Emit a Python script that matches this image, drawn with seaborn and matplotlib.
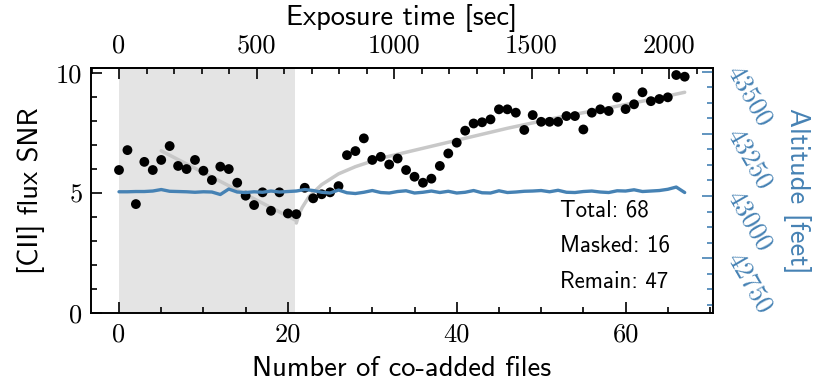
import matplotlib
matplotlib.use('Agg')
import matplotlib.pyplot as plt
from matplotlib.ticker import MultipleLocator, FuncFormatter
from matplotlib.transforms import ScaledTranslation
import pandas as pd
import seaborn as sns

# [CII] flux SNR after co-adding N files
snr = [5.96, 6.79, 4.54, 6.30, 5.96, 6.38, 6.96, 6.13, 6.00, 6.38,
       5.93, 5.54, 6.10, 6.00, 5.43, 4.89, 4.50, 5.03, 4.26, 5.03,
       4.15, 4.12, 5.22, 4.78, 4.95, 5.03, 5.29, 6.58, 6.75, 7.28,
       6.38, 6.51, 6.19, 6.44, 5.96, 5.68, 5.43, 5.60, 6.13, 6.65,
       7.10, 7.60, 7.90, 7.95, 8.07, 8.49, 8.49, 8.35, 7.63, 8.25,
       7.97, 7.97, 7.97, 8.21, 8.21, 7.65, 8.35, 8.49, 8.42, 8.99,
       8.50, 8.70, 9.20, 8.83, 8.92, 8.99, 9.92, 9.85]

# aircraft altitude per file [feet]
altitude = [43017, 43017, 43018, 43018, 43020, 43026, 43019, 43018, 43017, 43015,
            43017, 43016, 43006, 43028, 43016, 43014, 43017, 43015, 43020, 43016,
            43018, 43020, 43026, 43022, 43015, 43012, 43024, 43013, 43010, 43015,
            43022, 43014, 43012, 43018, 43021, 43012, 43015, 43020, 43014, 43019,
            43012, 43015, 43022, 43013, 43012, 43021, 43014, 43016, 43019, 43020,
            43022, 43017, 43023, 43015, 43014, 43018, 43020, 43016, 43014, 43021,
            43020, 43025, 43018, 43020, 43022, 43027, 43036, 43014]

# grey trend lines
trend_masked_x = [5.0, 21.0]
trend_masked_y = [6.76, 3.85]
trend_remain_x = [21.0, 21.3, 21.7, 22.5, 24, 26, 28, 31, 34, 40, 46, 52, 58, 63, 67]
trend_remain_y = [3.75, 4.10, 4.40, 4.85, 5.35, 5.80, 6.10, 6.45, 6.70, 7.20,
                  7.70, 8.15, 8.55, 8.90, 9.20]

mask_end = 20.8
n_total, n_masked, n_remain = 68, 16, 47
sec_per_file = 30.7

df = pd.DataFrame({'files': range(len(snr)), 'snr': snr, 'alt': altitude})

sns.set_style('ticks')
plt.rcParams['font.family'] = ['cmss10', 'DejaVu Sans']
plt.rcParams['axes.unicode_minus'] = False
plt.rcParams['axes.linewidth'] = 1.2
for key in ['text.color', 'axes.labelcolor', 'xtick.color', 'ytick.color', 'axes.edgecolor']:
    plt.rcParams[key] = 'black'

blue = '#4682b4'
tick_font = {'family': 'cmr10', 'size': 19}

fig = plt.figure(figsize=(8.3, 3.82), dpi=100)
ax = fig.add_axes([0.1093, 0.1806, 0.7497, 0.6406])

ax.axvspan(0, mask_end, color='#e4e4e4', lw=0, zorder=0)
sns.lineplot(x=trend_masked_x, y=trend_masked_y, ax=ax, color='#c8c8c8', lw=2.5, zorder=1)
sns.lineplot(x=trend_remain_x, y=trend_remain_y, ax=ax, color='#c8c8c8', lw=2.5,
             zorder=1, sort=False)
sns.scatterplot(data=df, x='files', y='snr', ax=ax, color='black', s=50,
                edgecolor='none', zorder=3)

ax.text(52.2, 4.04, f'Total: {n_total}', fontsize=16.5)
ax.text(52.2, 2.55, f'Masked: {n_masked}', fontsize=16.5)
ax.text(52.2, 1.03, f'Remain: {n_remain}', fontsize=16.5)

ax.set_xlim(-3.35, 70.35)
ax.set_ylim(0, 10.2)
ax.xaxis.set_major_locator(MultipleLocator(20))
ax.xaxis.set_minor_locator(MultipleLocator(5))
ax.yaxis.set_major_locator(MultipleLocator(5))
ax.yaxis.set_minor_locator(MultipleLocator(1))
fmt = FuncFormatter(lambda v, p: f'{v:g}')
ax.xaxis.set_major_formatter(fmt)
ax.yaxis.set_major_formatter(fmt)
ax.tick_params(which='both', direction='in', top=False, right=False, width=1.2)
ax.tick_params(which='major', length=8)
ax.tick_params(which='minor', length=4)
ax.tick_params(axis='x', pad=7)
ax.tick_params(axis='y', pad=6)
for lab in ax.get_xticklabels() + ax.get_yticklabels():
    lab.set_fontproperties(tick_font)
ax.set_xlabel('Number of co-added files', fontsize=20.5, labelpad=7)
ax.set_ylabel('[CII] flux SNR', fontsize=20.5, labelpad=8)

# top axis: exposure time
secax = ax.secondary_xaxis('top', functions=(lambda x: x * sec_per_file,
                                             lambda t: t / sec_per_file))
secax.xaxis.set_major_locator(MultipleLocator(500))
secax.xaxis.set_minor_locator(MultipleLocator(100))
secax.xaxis.set_major_formatter(FuncFormatter(lambda v, p: f'{v:g}' if 0 <= v <= 2100 else ''))
secax.tick_params(which='both', direction='in', width=1.2, pad=8)
secax.tick_params(which='major', length=8)
secax.tick_params(which='minor', length=4)
for lab in secax.get_xticklabels():
    lab.set_fontproperties(tick_font)
secax.set_xlabel('Exposure time [sec]', fontsize=20.5, labelpad=6)

# right axis: altitude
ax2 = ax.twinx()
sns.lineplot(data=df, x='files', y='alt', ax=ax2, color=blue, lw=2.4)
ax2.set_xlim(-3.35, 70.35)
ax2.set_ylim(42529, 43514)
ax2.yaxis.set_major_locator(MultipleLocator(250))
ax2.yaxis.set_minor_locator(MultipleLocator(62.5))
ax2.yaxis.set_major_formatter(FuncFormatter(lambda v, p: f'{v:g}' if 42600 <= v <= 43514 else ''))
ax2.tick_params(axis='y', which='both', direction='in', colors=blue, width=1.2, pad=7)
ax2.tick_params(axis='y', which='major', length=8)
ax2.tick_params(axis='y', which='minor', length=4)
shift_up = ScaledTranslation(0, 10 / 100, fig.dpi_scale_trans)
for lab in ax2.get_yticklabels():
    lab.set_fontproperties(tick_font)
    lab.set_rotation(-60)
    lab.set_va('top')
    lab.set_ha('left')
    lab.set_transform(lab.get_transform() + shift_up)
ax2.set_xlabel('')
ax2.set_ylabel('Altitude [feet]', color=blue, fontsize=20.5, rotation=270, labelpad=25)

fig.savefig('out.png', dpi=100)
